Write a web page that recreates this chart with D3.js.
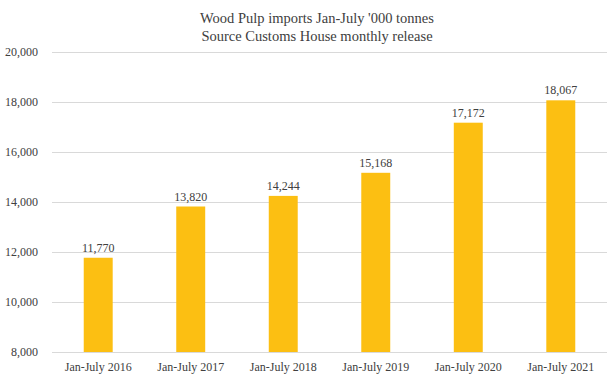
<!DOCTYPE html>
<html>
<head>
<meta charset="utf-8">
<script src="https://cdn.jsdelivr.net/npm/d3@7"></script>
<style>
  body { margin: 0; background: #fff; }
  text { font-family: "Liberation Serif", "Times New Roman", serif; fill: #404040; }
</style>
</head>
<body>
<svg id="chart"></svg>
<script>
const categories = ["Jan-July 2016", "Jan-July 2017", "Jan-July 2018", "Jan-July 2019", "Jan-July 2020", "Jan-July 2021"];
const imports = [11770, 13820, 14244, 15168, 17172, 18067];
const yTicks = [8000, 10000, 12000, 14000, 16000, 18000, 20000];
const titleLines = ["Wood Pulp imports Jan-July '000 tonnes", "Source Customs House monthly release"];

const width = 613;
const height = 376;
const margin = { top: 52, right: 6, bottom: 24, left: 52 };

const svg = d3.select("#chart")
    .attr("width", width)
    .attr("height", height);

const x = d3.scaleBand()
    .domain(categories)
    .range([margin.left, width - margin.right])
    .paddingInner(0.687)
    .paddingOuter(0.343);

const y = d3.scaleLinear()
    .domain([8000, 20000])
    .range([height - margin.bottom, margin.top]);

// gridlines + y labels
const yAxis = svg.append("g")
    .attr("transform", `translate(${margin.left},0)`)
    .call(d3.axisLeft(y)
        .tickValues(yTicks)
        .tickSize(-(width - margin.left - margin.right))
        .tickPadding(14)
        .tickFormat(d3.format(",")));

yAxis.select(".domain").remove();
yAxis.selectAll(".tick line").attr("stroke", "#d9d9d9").attr("stroke-width", 1);
yAxis.selectAll(".tick text")
    .style("font-size", "12px")
    .style("font-family", "'Liberation Serif', serif")
    .attr("fill", "#404040");

// bars
svg.append("g")
    .selectAll("rect")
    .data(imports)
    .join("rect")
    .attr("x", (d, i) => x(categories[i]))
    .attr("width", x.bandwidth())
    .attr("y", d => y(d))
    .attr("height", d => y(8000) - y(d))
    .attr("fill", "#fcbf12");

// value labels
svg.append("g")
    .selectAll("text")
    .data(imports)
    .join("text")
    .attr("x", (d, i) => x(categories[i]) + x.bandwidth() / 2)
    .attr("y", d => y(d) - 6)
    .attr("text-anchor", "middle")
    .style("font-size", "12px")
    .text(d => d3.format(",")(d));

// x labels
const xAxis = svg.append("g")
    .attr("transform", `translate(0,${height - margin.bottom})`)
    .call(d3.axisBottom(x).tickSize(0).tickPadding(10));

xAxis.select(".domain").remove();
xAxis.selectAll(".tick text")
    .style("font-size", "12px")
    .style("font-family", "'Liberation Serif', serif")
    .attr("fill", "#404040");

// title
svg.append("g")
    .selectAll("text")
    .data(titleLines)
    .join("text")
    .attr("x", 317)
    .attr("y", (d, i) => 23 + i * 18)
    .attr("text-anchor", "middle")
    .style("font-size", "14.5px")
    .text(d => d);
</script>
</body>
</html>
